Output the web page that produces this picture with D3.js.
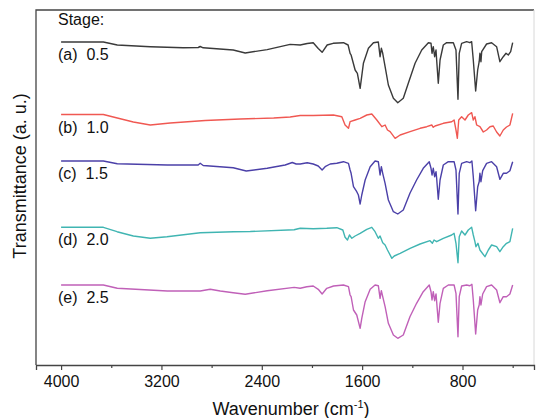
<!DOCTYPE html>
<html>
<head>
<meta charset="utf-8">
<script src="https://cdn.jsdelivr.net/npm/d3@7"></script>
<style>
  body { margin: 0; background: #fff; }
  svg { display: block; font-family: "Liberation Sans", Arial, sans-serif; }
</style>
</head>
<body>
<div id="chart"></div>
<script>
// FTIR spectra, transmittance in a.u. (100 = flat baseline), [wavenumber, T]
const spectrumA = [[4000,100],[3663,100],[3552,97],[3289,95.3],[3026,94.3],[2907,94.5],[2891,95.5],[2867,94.2],[2628,92],[2532,89],[2357,92.4],[2174,97.6],[2094,97],[2038,98.5],[1990,99.3],[1950,93.5],[1919,89.7],[1879,97],[1831,98.7],[1749,99.3],[1712,97],[1696,88.7],[1688,87],[1656,72],[1638,68.7],[1616,53.7],[1590,78.7],[1550,93.7],[1510,99.3],[1471,100],[1457,85.3],[1447,93.7],[1436,88.7],[1417,75.3],[1391,57],[1351,43.7],[1316,39.3],[1272,43.7],[1232,58.7],[1178,78.7],[1125,92],[1072,99.3],[1051,98.7],[1043,88.7],[1033,95.3],[1022,85.3],[1011,92],[1006,82],[993,58.7],[979,82],[953,97],[926,99.3],[873,99.3],[852,92],[836,42.7],[826,88.7],[807,98.7],[767,100.3],[741,99.3],[727,100.3],[714,82],[695,51],[679,72],[667,80.3],[661,88.7],[653,80.3],[647,90.3],[608,98],[568,99.3],[528,95.3],[502,80.3],[475,85.3],[453,88.7],[435,87],[416,90.3],[400,99.3]];

const spectrumB = [[4000,100],[3663,100],[3552,96.5],[3424,92.5],[3289,89.5],[3130,91.5],[2851,94],[2572,95.5],[2305,96.5],[2174,97.5],[2094,99],[1990,99],[1829,99.5],[1762,97.8],[1736,89.5],[1709,86.2],[1696,92.8],[1656,94.5],[1616,96.2],[1563,99.5],[1523,100.5],[1483,94.5],[1443,87.8],[1417,89.5],[1398,84.5],[1377,82.8],[1337,76.2],[1297,79.5],[1218,82.8],[1138,86.2],[1085,87.8],[1045,89.5],[1033,87.2],[1019,88.5],[953,91.2],[886,92.8],[867,94.5],[852,84.5],[841,76.2],[830,94.5],[807,97.8],[780,94.5],[754,99.5],[727,101.8],[714,94.5],[701,97.8],[687,89.5],[661,87.8],[634,82.5],[608,84.5],[581,87.8],[555,88.5],[528,82.5],[502,78.5],[475,84.5],[449,87.5],[422,89.5],[400,101.2]];

const spectrumC = [[4000,100],[3663,100],[3552,97.3],[3153,96],[2907,96],[2891,97.7],[2867,95.5],[2628,93.3],[2524,90],[2357,92.7],[2214,96],[2157,98.5],[2126,97],[2094,97],[2038,98.3],[1990,97],[1950,95],[1919,91],[1895,94.3],[1855,97],[1802,97.7],[1749,99.3],[1709,97.7],[1696,91],[1688,87.7],[1669,74.3],[1643,69.3],[1630,66],[1616,57],[1603,66],[1576,81],[1536,94.3],[1497,100],[1471,99.3],[1457,86],[1447,94.3],[1436,87.7],[1417,77.7],[1391,61],[1351,49.3],[1316,47],[1272,51],[1219,67.7],[1166,81],[1113,92.7],[1065,99.3],[1051,92.7],[1043,86],[1033,92.7],[1022,84.3],[1011,89.3],[1006,82.7],[993,61.7],[979,81],[953,96],[913,99.3],[867,99.3],[852,91],[836,47],[826,87.7],[807,97.7],[767,99.3],[741,98.3],[725,100],[714,84.3],[695,50.3],[679,74.3],[667,79.3],[661,87.7],[653,79.3],[639,90.3],[608,97.7],[568,99.3],[528,94.3],[502,81.7],[475,87.7],[449,87.7],[422,90.3],[400,99.3]];

const spectrumD = [[4000,100],[3663,100],[3554,95.6],[3424,91.3],[3289,89],[3156,90.6],[2891,94.6],[2625,95.6],[2492,95.8],[2142,97.5],[2094,99],[1990,98.6],[1882,99],[1802,99.6],[1754,97.3],[1736,90],[1717,87.3],[1701,92.3],[1682,89],[1656,91.3],[1616,94],[1563,98],[1523,100],[1497,95.6],[1471,89],[1457,91.3],[1436,84.6],[1417,82.3],[1398,77.3],[1363,69],[1344,71.3],[1297,74],[1218,79],[1138,83.3],[1059,86.6],[1040,84],[1027,87.3],[1006,85.6],[953,89],[886,92.3],[867,94],[852,84],[836,64.6],[826,90.6],[807,96.3],[780,92.3],[754,97.3],[727,100],[714,92.3],[701,85.6],[693,80.6],[677,84],[661,77.3],[621,70.6],[594,77.3],[568,82.3],[528,80.6],[502,75.6],[475,80.6],[449,84],[422,85.6],[400,99]];

const spectrumE = [[4000,100],[3663,100],[3552,96.7],[3153,94],[2891,94],[2811,95.7],[2731,94],[2628,92.3],[2532,90.7],[2357,94.2],[2142,97.6],[2094,96.7],[2041,98.3],[1990,99],[1950,95.7],[1919,91],[1882,96.7],[1828,99],[1749,100],[1709,98.3],[1696,90],[1688,88.3],[1669,75],[1643,70],[1616,56.7],[1603,66.7],[1576,83.3],[1536,95.7],[1497,100],[1471,99.3],[1457,86.7],[1447,94.3],[1436,88.3],[1417,78.3],[1391,61.7],[1351,50],[1316,46.7],[1272,50],[1219,68.3],[1166,81.7],[1113,93.3],[1065,100],[1051,93.3],[1043,85],[1033,93.3],[1022,84.3],[1011,91],[1006,83.3],[993,62.7],[979,81.7],[953,96.7],[913,100],[867,100],[852,91.7],[836,48.3],[826,88.3],[807,99],[767,100],[741,99.3],[725,100.7],[714,85],[695,51],[679,75],[667,80],[661,88.3],[653,80],[639,91],[608,98.3],[568,100],[528,95],[502,82.3],[475,88.3],[449,88.3],[422,91],[400,100]];

const spectra = [spectrumA, spectrumB, spectrumC, spectrumD, spectrumE];
const stageLabels = ["(a)  0.5", "(b)  1.0", "(c)  1.5", "(d)  2.0", "(e)  2.5"];
const stageOffsets = [223, 150.5, 104, 37.7, -20]; // vertical stacking, a.u.
const stageColors = ["#3a3a3a", "#f05852", "#4b40a8", "#40b5b2", "#c060b8"];
const majorTicks = [4000, 3200, 2400, 1600, 800];
const minorTicks = [3600, 2800, 2000, 1200, 400];

const width = 536, height = 418;
const frame = { left: 36, right: 534, top: 10, bottom: 365 };

const svg = d3.select("#chart").append("svg")
  .attr("width", width)
  .attr("height", height);

const x = d3.scaleLinear().domain([4200, 230]).range([frame.left, frame.right]);
const y = d3.scaleLinear().domain([0, 355]).range([frame.bottom, frame.top]);

// frame
svg.append("path")
  .attr("d", `M${frame.right},${frame.top}H${frame.left}V${frame.bottom}`)
  .attr("fill", "none").attr("stroke", "#444").attr("stroke-width", 1.3);
svg.append("line")
  .attr("x1", frame.right).attr("x2", frame.right)
  .attr("y1", frame.top).attr("y2", frame.bottom)
  .attr("stroke", "#d8d8d8").attr("stroke-width", 1);

// x axis
const xAxis = svg.append("g")
  .attr("transform", `translate(0,${frame.bottom})`)
  .call(d3.axisBottom(x).tickValues(majorTicks).tickSize(5).tickPadding(6).tickFormat(d3.format("d")));
xAxis.select(".domain").attr("stroke", "#444").attr("stroke-width", 1.3);
xAxis.selectAll(".tick line").attr("stroke", "#444").attr("stroke-width", 1.2);
xAxis.selectAll("text")
  .attr("font-size", 16).attr("fill", "#111")
  .attr("font-family", "'Liberation Sans', Arial, sans-serif");

const xMinor = svg.append("g")
  .attr("transform", `translate(0,${frame.bottom})`)
  .call(d3.axisBottom(x).tickValues(minorTicks).tickSize(3).tickFormat(""));
xMinor.select(".domain").remove();
xMinor.selectAll(".tick line").attr("stroke", "#444").attr("stroke-width", 1.2);

// axis titles
const xTitle = svg.append("text")
  .attr("x", 291).attr("y", 415)
  .attr("text-anchor", "middle")
  .attr("font-size", 18).attr("fill", "#111");
xTitle.append("tspan").text("Wavenumber (cm");
xTitle.append("tspan").attr("font-size", 11).attr("dy", -7).text("-1");
xTitle.append("tspan").attr("dy", 7).text(")");

svg.append("text")
  .attr("transform", "translate(26,176) rotate(-90)")
  .attr("text-anchor", "middle")
  .attr("font-size", 18).attr("fill", "#111")
  .text("Transmittance (a. u.)");

// spectra
const line = d3.line()
  .x(d => x(d[0]))
  .y(d => y(d[1]));

spectra.forEach((s, i) => {
  svg.append("path")
    .datum(s.map(d => [d[0], d[1] + stageOffsets[i]]))
    .attr("d", line)
    .attr("fill", "none")
    .attr("stroke", stageColors[i])
    .attr("stroke-width", 1.4)
    .attr("stroke-linejoin", "round");
});

// stage labels
svg.append("text")
  .attr("x", 58).attr("y", 25)
  .attr("font-size", 16).attr("fill", "#111")
  .text("Stage:");

svg.selectAll(".stage")
  .data(stageLabels)
  .join("text")
  .attr("class", "stage")
  .attr("x", 58)
  .attr("y", (d, i) => y(100 + stageOffsets[i]) + 18)
  .attr("font-size", 16).attr("fill", "#111")
  .style("white-space", "pre")
  .text(d => d);
</script>
</body>
</html>
